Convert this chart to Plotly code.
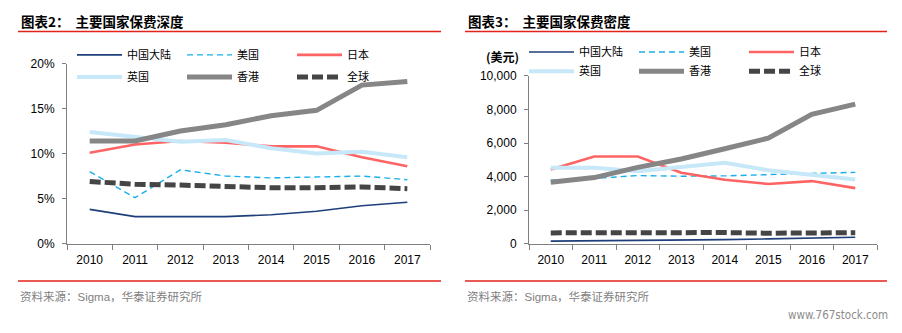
import plotly.graph_objects as go

W, H = 902, 333

years = ["2010", "2011", "2012", "2013", "2014", "2015", "2016", "2017"]
names = ["中国大陆", "美国", "日本", "英国", "香港", "全球"]

# 保费深度 (%)
depth_cn = [3.8, 3.0, 3.0, 3.0, 3.2, 3.6, 4.2, 4.6]
depth_us = [8.0, 5.1, 8.2, 7.5, 7.3, 7.4, 7.5, 7.1]
depth_jp = [10.1, 11.0, 11.4, 11.2, 10.8, 10.8, 9.6, 8.6]
depth_uk = [12.4, 11.8, 11.3, 11.5, 10.6, 10.0, 10.2, 9.6]
depth_hk = [11.4, 11.4, 12.5, 13.2, 14.2, 14.8, 17.6, 18.0]
depth_world = [6.9, 6.6, 6.5, 6.3, 6.2, 6.2, 6.3, 6.1]

# 保费密度 (美元)
dens_cn = [150, 160, 175, 200, 235, 280, 340, 380]
dens_us = [3790, 3890, 4060, 4020, 4040, 4130, 4190, 4250]
dens_jp = [4420, 5200, 5200, 4230, 3810, 3560, 3730, 3310]
dens_uk = [4530, 4530, 4320, 4550, 4820, 4380, 4100, 3830]
dens_hk = [3660, 3940, 4550, 5050, 5660, 6290, 7710, 8320]
dens_world = [640, 660, 660, 660, 660, 620, 640, 650]

depth_tick_vals = [0, 5, 10, 15, 20]
depth_tick_text = ["0%", "5%", "10%", "15%", "20%"]
dens_tick_vals = [0, 2000, 4000, 6000, 8000, 10000]
dens_tick_text = ["0", "2,000", "4,000", "6,000", "8,000", "10,000"]

styles = [
    dict(color="#1F3F7A", width=1.6, dash="solid"),
    dict(color="#1AAEEB", width=1.4, dash="6px,4px"),
    dict(color="#FF6464", width=2.6, dash="solid"),
    dict(color="#C7E8F8", width=4.0, dash="solid"),
    dict(color="#868686", width=5.0, dash="solid"),
    dict(color="#454545", width=5.0, dash="11px,4px"),
]

depth = [depth_cn, depth_us, depth_jp, depth_uk, depth_hk, depth_world]
dens = [dens_cn, dens_us, dens_jp, dens_uk, dens_hk, dens_world]

fig = go.Figure()

for i, (nm, st, vals) in enumerate(zip(names, styles, depth)):
    fig.add_trace(go.Scatter(
        x=years, y=vals, name=nm, mode="lines", line=st,
        xaxis="x", yaxis="y",
        legend="legend" if i < 3 else "legend2",
        hoverinfo="skip",
    ))
for i, (nm, st, vals) in enumerate(zip(names, styles, dens)):
    fig.add_trace(go.Scatter(
        x=years, y=vals, name=nm, mode="lines", line=st,
        xaxis="x2", yaxis="y2",
        legend="legend3" if i < 3 else "legend4",
        hoverinfo="skip",
    ))


def px_x(p):
    return p / W


def px_y(p):
    return 1 - p / H


num_font = dict(family="Liberation Sans, Arial, sans-serif", size=12, color="#000000")
cjk = "Noto Sans CJK SC"
axis_col = "#7F7F7F"

xaxis_common = dict(
    type="category", range=[-0.5, 7.5], showgrid=False, zeroline=False,
    showline=True, linecolor=axis_col, linewidth=1,
    ticks="outside", tickson="boundaries", ticklen=5, tickcolor=axis_col,
    tickfont=num_font, ticklabelstandoff=5, fixedrange=True,
)
yaxis_common = dict(
    showgrid=False, zeroline=False, showline=True, linecolor=axis_col, linewidth=1,
    ticks="outside", ticklen=4, tickcolor=axis_col, tickfont=num_font,
    ticklabelstandoff=5, tickmode="array", fixedrange=True,
)

legend_common = dict(
    orientation="h", xanchor="left", yanchor="middle",
    font=dict(family=cjk, size=11, color="#000000"),
    bgcolor="rgba(0,0,0,0)", borderwidth=0,
    entrywidth=50, entrywidthmode="pixels", itemwidth=45,
    tracegroupgap=0, itemclick=False, itemdoubleclick=False,
)

fig.update_layout(
    width=W, height=H,
    margin=dict(l=0, r=0, t=0, b=0),
    paper_bgcolor="#FFFFFF", plot_bgcolor="#FFFFFF",
    xaxis=dict(xaxis_common, domain=[px_x(67), px_x(430)], anchor="y"),
    yaxis=dict(yaxis_common, domain=[px_y(247), px_y(59)], anchor="x",
               range=[0, 20], tickvals=depth_tick_vals, ticktext=depth_tick_text),
    xaxis2=dict(xaxis_common, domain=[px_x(529), px_x(877)], anchor="y2"),
    yaxis2=dict(yaxis_common, domain=[px_y(247), px_y(72)], anchor="x2",
                range=[0, 10000], tickvals=dens_tick_vals, ticktext=dens_tick_text),
    legend=dict(legend_common, x=px_x(72), y=px_y(50)),
    legend2=dict(legend_common, x=px_x(72), y=px_y(73)),
    legend3=dict(legend_common, x=px_x(524), y=px_y(47)),
    legend4=dict(legend_common, x=px_x(524), y=px_y(67)),
    showlegend=True,
)

# panel titles, rules and footers
red = "#E3231B"
for x0, x1, title in [(18, 441, "图表2：  主要国家保费深度"), (465, 887, "图表3：  主要国家保费密度")]:
    fig.add_annotation(
        x=px_x(x0 + 1), y=px_y(15), xref="paper", yref="paper",
        xanchor="left", yanchor="middle", showarrow=False,
        text="<b>" + title + "</b>",
        font=dict(family=cjk, size=13.5, color="#000000"),
    )
    fig.add_shape(type="line", xref="paper", yref="paper",
                  x0=px_x(x0), x1=px_x(x1), y0=px_y(25.5), y1=px_y(25.5),
                  line=dict(color=red, width=1.5))
    fig.add_shape(type="line", xref="paper", yref="paper",
                  x0=px_x(x0), x1=px_x(x1), y0=px_y(286), y1=px_y(286),
                  line=dict(color=red, width=1.5))
    fig.add_annotation(
        x=px_x(x0), y=px_y(302), xref="paper", yref="paper",
        xanchor="left", yanchor="middle", showarrow=False,
        text="资料来源：<span style='font-family:Liberation Sans'>Sigma</span>，华泰证券研究所",
        font=dict(family=cjk, size=11.5, color="#7F7F7F"),
    )

fig.add_annotation(
    x=px_x(502), y=px_y(52), xref="paper", yref="paper",
    xanchor="center", yanchor="middle", showarrow=False,
    text="<b>(美元)</b>",
    font=dict(family=cjk, size=12, color="#000000"),
)

fig.add_annotation(
    x=px_x(890), y=px_y(322), xref="paper", yref="paper",
    xanchor="right", yanchor="middle", showarrow=False,
    text="www.767stock.com",
    font=dict(family="DejaVu Sans Condensed, DejaVu Sans, sans-serif", size=11.5, color="#8C8C8C"),
)

fig.write_html("out.html")
